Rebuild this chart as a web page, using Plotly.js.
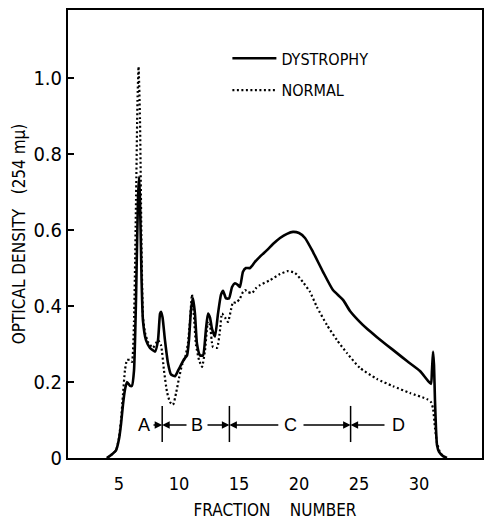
<!DOCTYPE html>
<html>
<head>
<meta charset="utf-8">
<script src="https://cdn.plot.ly/plotly-3.0.1.min.js"></script>
<style>html,body{margin:0;padding:0;background:#fff;}#chart{width:488px;height:520px;}</style>
</head>
<body>
<div id="chart"></div>
<script>
// Fraction numbers and optical densities
const fractionDystrophy = [4.00,4.42,4.75,5.00,5.17,5.33,5.50,5.67,5.92,6.08,6.25,6.42,6.58,6.67,6.75,6.88,7.00,7.25,7.58,8.00,8.25,8.42,8.50,8.63,8.83,9.08,9.33,9.67,9.92,10.17,10.42,10.67,10.83,11.00,11.17,11.33,11.50,11.75,12.00,12.25,12.42,12.58,12.75,13.00,13.25,13.50,13.67,13.92,14.17,14.42,14.67,14.92,15.08,15.33,15.58,15.92,16.33,16.75,17.33,17.83,18.42,19.00,19.50,20.00,20.50,21.17,22.00,22.83,23.67,24.25,24.92,25.67,26.50,27.33,28.17,29.00,30.08,30.75,31.00,31.08,31.17,31.25,31.33,31.42,31.50,31.67,32.00,32.33];
const odDystrophy = [0.00,0.01,0.02,0.05,0.09,0.14,0.18,0.20,0.19,0.19,0.23,0.42,0.68,0.74,0.68,0.47,0.36,0.31,0.29,0.28,0.31,0.38,0.385,0.37,0.31,0.25,0.22,0.215,0.23,0.245,0.26,0.27,0.31,0.39,0.42,0.38,0.30,0.27,0.27,0.34,0.38,0.37,0.34,0.32,0.38,0.43,0.44,0.42,0.42,0.45,0.46,0.455,0.45,0.49,0.50,0.50,0.516,0.53,0.547,0.563,0.579,0.59,0.595,0.592,0.579,0.542,0.49,0.442,0.416,0.387,0.363,0.34,0.318,0.297,0.276,0.255,0.229,0.203,0.195,0.23,0.28,0.245,0.153,0.074,0.034,0.016,0.005,0.00];

const fractionNormal = [4.00,4.42,4.75,5.00,5.17,5.33,5.50,5.67,5.92,6.08,6.25,6.42,6.54,6.63,6.75,6.88,7.00,7.17,7.42,7.83,8.25,8.50,8.75,9.00,9.25,9.50,9.75,10.00,10.25,10.50,10.75,10.92,11.08,11.25,11.42,11.67,11.92,12.17,12.42,12.58,12.83,13.17,13.42,13.58,13.83,14.08,14.33,14.50,14.75,15.08,15.33,15.50,15.75,16.08,16.42,16.75,17.58,18.42,19.08,19.67,20.33,20.92,21.50,22.33,23.17,24.00,25.08,26.50,27.83,29.25,30.67,31.00,31.17,31.33,31.50,31.75,32.08,32.42];
const odNormal = [0.00,0.01,0.02,0.053,0.10,0.166,0.232,0.258,0.258,0.253,0.36,0.68,0.94,1.03,0.89,0.55,0.37,0.33,0.305,0.29,0.31,0.297,0.23,0.174,0.147,0.14,0.17,0.21,0.245,0.263,0.303,0.363,0.43,0.37,0.297,0.258,0.24,0.284,0.36,0.35,0.292,0.29,0.337,0.38,0.37,0.358,0.39,0.41,0.408,0.42,0.437,0.442,0.437,0.434,0.447,0.455,0.468,0.484,0.492,0.487,0.463,0.437,0.397,0.35,0.31,0.276,0.237,0.208,0.189,0.171,0.155,0.147,0.13,0.08,0.04,0.015,0.003,0.00];

const yTickVals = [0, 0.2, 0.4, 0.6, 0.8, 1.0];
const yTickText = ['0', '0.2', '0.4', '0.6', '0.8', '1.0'];
const xTickVals = [5, 10, 15, 20, 25, 30];

const regionLabels = ['A', 'B', 'C', 'D'];
const regionLabelX = [7.08, 11.5, 19.33, 28.25];
const regionBounds = [8.6, 14.2, 24.3];
// arrow tails (fraction) and the boundary each one points to
const arrowTails = [7.75, 10.75, 12.25, 18.4, 20.25, 27.25];
const arrowHeads = [8.6, 8.6, 14.2, 14.2, 24.3, 24.3];
const regionLabelY = 0.087;

const FONT = '"DejaVu Sans Condensed", "Liberation Sans Narrow", "DejaVu Sans", sans-serif';
const NB = '\u00A0';

const traces = [
  {
    x: fractionDystrophy, y: odDystrophy, type: 'scatter', mode: 'lines',
    name: 'DYSTROPHY', legendgroup: 'd',
    line: {color: '#000', width: 2.6, shape: 'spline', smoothing: 0.5}
  },
  {
    x: fractionNormal, y: odNormal, type: 'scatter', mode: 'lines',
    name: 'NORMAL', legendgroup: 'n',
    line: {color: '#000', width: 2.2, dash: '2px,2.5px', shape: 'spline', smoothing: 0.5}
  }
];

const shapes = regionBounds.map(b => ({
  type: 'line', xref: 'x', yref: 'y', x0: b, x1: b, y0: 0.042, y1: 0.137,
  line: {color: '#000', width: 1.5}
}));

const annotations = [];
regionLabels.forEach((t, i) => {
  annotations.push({
    x: regionLabelX[i], y: regionLabelY, xref: 'x', yref: 'y', text: t,
    showarrow: false, font: {family: 'Liberation Sans, Arial, sans-serif', size: 18, color: '#000'}
  });
});
arrowTails.forEach((t, i) => {
  annotations.push({
    x: arrowHeads[i], y: regionLabelY, ax: t, ay: regionLabelY,
    xref: 'x', yref: 'y', axref: 'x', ayref: 'y', text: '',
    showarrow: true, arrowhead: 2, arrowsize: 1, arrowwidth: 1.5, arrowcolor: '#000', standoff: 0
  });
});

const layout = {
  width: 488, height: 520,
  margin: {l: 68, r: 6, t: 10, b: 62},
  paper_bgcolor: '#fff', plot_bgcolor: '#fff',
  font: {family: FONT, color: '#000', size: 16},
  showlegend: true,
  legend: {
    x: 0.385, y: 0.93, xanchor: 'left', yanchor: 'top',
    bgcolor: 'rgba(0,0,0,0)', borderwidth: 0,
    font: {family: FONT, size: 16, color: '#000'},
    itemwidth: 44, tracegroupgap: 8
  },
  xaxis: {
    range: [0.75, 35.25],
    tickvals: xTickVals,
    ticks: 'outside', ticklen: 8, tickcolor: 'rgba(0,0,0,0)',
    tickfont: {family: FONT, size: 18},
    showgrid: false, zeroline: false,
    showline: true, linecolor: '#000', linewidth: 2, mirror: true,
    title: {text: 'FRACTION' + NB.repeat(4) + 'NUMBER', font: {family: FONT, size: 17}, standoff: 12}
  },
  yaxis: {
    range: [0, 1.179],
    tickvals: yTickVals, ticktext: yTickText,
    ticks: 'inside', ticklen: 6, tickwidth: 1.5, tickcolor: '#000',
    tickfont: {family: FONT, size: 20},
    showgrid: false, zeroline: false,
    showline: true, linecolor: '#000', linewidth: 2, mirror: true,
    title: {text: 'OPTICAL DENSITY' + NB.repeat(3) + '(254 m\u03BC)', font: {family: FONT, size: 17}, standoff: 3}
  },
  shapes: shapes,
  annotations: annotations
};

Plotly.newPlot('chart', traces, layout, {staticPlot: true, displayModeBar: false});
</script>
</body>
</html>
